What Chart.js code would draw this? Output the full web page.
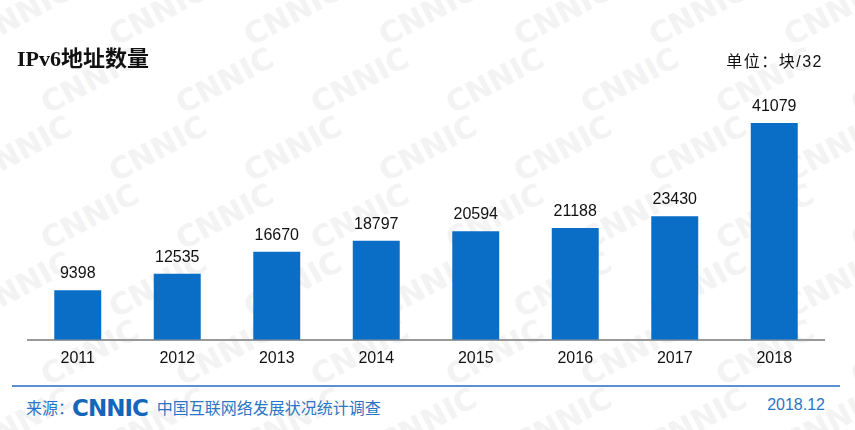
<!DOCTYPE html>
<html lang="zh-CN">
<head>
    <meta charset="UTF-8">
    <title>IPv6地址数量</title>
    <script src="https://cdn.jsdelivr.net/npm/chart.js"></script>
    <style>
        body {
            margin: 0;
            width: 855px;
            height: 430px;
            background: #fff;
            position: relative;
            overflow: hidden;
            font-family: 'Liberation Sans', 'Noto Sans CJK SC', sans-serif;
        }

        #watermark {
            position: absolute;
            left: 0;
            top: 0;
            width: 855px;
            height: 430px;
            z-index: 0;
        }

        #watermark span {
            position: absolute;
            font-family: 'DejaVu Sans', sans-serif;
            font-weight: bold;
            font-size: 30px;
            color: #f3f3f3;
            transform: rotate(-28deg);
        }

        .chart-box {
            position: absolute;
            left: 0;
            top: 0;
            width: 855px;
            height: 385px;
            z-index: 1;
        }

        .title {
            position: absolute;
            left: 17px;
            top: 40px;
            font-family: 'Liberation Serif', 'Noto Sans CJK SC', serif;
            font-weight: bold;
            font-size: 22px;
            color: #111;
            z-index: 2;
        }

        .unit {
            position: absolute;
            right: 32px;
            top: 48px;
            font-size: 16px;
            letter-spacing: 1.5px;
            color: #111;
            z-index: 2;
        }

        .footer-line {
            position: absolute;
            left: 12px;
            width: 828px;
            top: 385px;
            height: 2px;
            background: #5b8fd4;
            z-index: 2;
        }

        .footer {
            position: absolute;
            left: 26px;
            top: 395px;
            font-size: 16px;
            color: #2a76c6;
            z-index: 2;
            white-space: nowrap;
        }

        .footer .logo {
            font-family: 'DejaVu Sans', sans-serif;
            font-weight: bold;
            font-size: 23px;
            color: #1566b9;
            letter-spacing: -1px;
            margin: 0 9px 0 -2px;
            vertical-align: -2px;
        }

        .date {
            position: absolute;
            right: 30px;
            top: 396px;
            font-size: 16px;
            color: #2a76c6;
            z-index: 2;
        }
    </style>
</head>
<body>

    <div id="watermark"></div>

    <div class="title">IPv6地址数量</div>
    <div class="unit">单位：块/32</div>

    <div class="chart-box">
        <canvas id="ipv6Chart"></canvas>
    </div>

    <div class="footer-line"></div>
    <div class="footer">来源：<span class="logo">CNNIC</span>中国互联网络发展状况统计调查</div>
    <div class="date">2018.12</div>

    <script>
        // 年份与地址数量
        const years = ['2011', '2012', '2013', '2014', '2015', '2016', '2017', '2018'];
        const addressCounts = [9398, 12535, 16670, 18797, 20594, 21188, 23430, 41079];

        // 背景水印
        const wm = document.getElementById('watermark');
        for (let row = 0; row < 7; row++) {
            for (let col = 0; col < 7; col++) {
                const s = document.createElement('span');
                s.textContent = 'CNNIC';
                s.style.left = (col * 135 - 30 + (row % 2) * 67) + 'px';
                s.style.top = (row * 68 - 5) + 'px';
                wm.appendChild(s);
            }
        }

        // 柱顶数值
        const valueLabels = {
            id: 'valueLabels',
            afterDatasetsDraw(chart) {
                const ctx = chart.ctx;
                const meta = chart.getDatasetMeta(0);
                ctx.save();
                ctx.font = '16px "Liberation Sans", Arial, sans-serif';
                ctx.fillStyle = '#111';
                ctx.textAlign = 'center';
                ctx.textBaseline = 'alphabetic';
                meta.data.forEach((bar, i) => {
                    ctx.fillText(addressCounts[i], bar.x, bar.y - 12);
                });
                ctx.restore();
            }
        };

        const ctx = document.getElementById('ipv6Chart').getContext('2d');
        new Chart(ctx, {
            type: 'bar',
            data: {
                labels: years,
                datasets: [{
                    data: addressCounts,
                    backgroundColor: '#0a6ec6',
                    barPercentage: 0.472,
                    categoryPercentage: 1
                }]
            },
            options: {
                responsive: true,
                maintainAspectRatio: false,
                animation: false,
                layout: {
                    padding: { left: 28, right: 31, top: 76, bottom: 8 }
                },
                plugins: {
                    legend: { display: false },
                    tooltip: { enabled: false }
                },
                scales: {
                    x: {
                        grid: { display: false, drawTicks: false },
                        border: { display: true, color: '#999', width: 2 },
                        ticks: {
                            color: '#111',
                            padding: 9,
                            font: { family: 'Liberation Sans', size: 16 }
                        }
                    },
                    y: {
                        display: false,
                        min: 0,
                        max: 50000
                    }
                }
            },
            plugins: [valueLabels]
        });
    </script>

</body>
</html>
